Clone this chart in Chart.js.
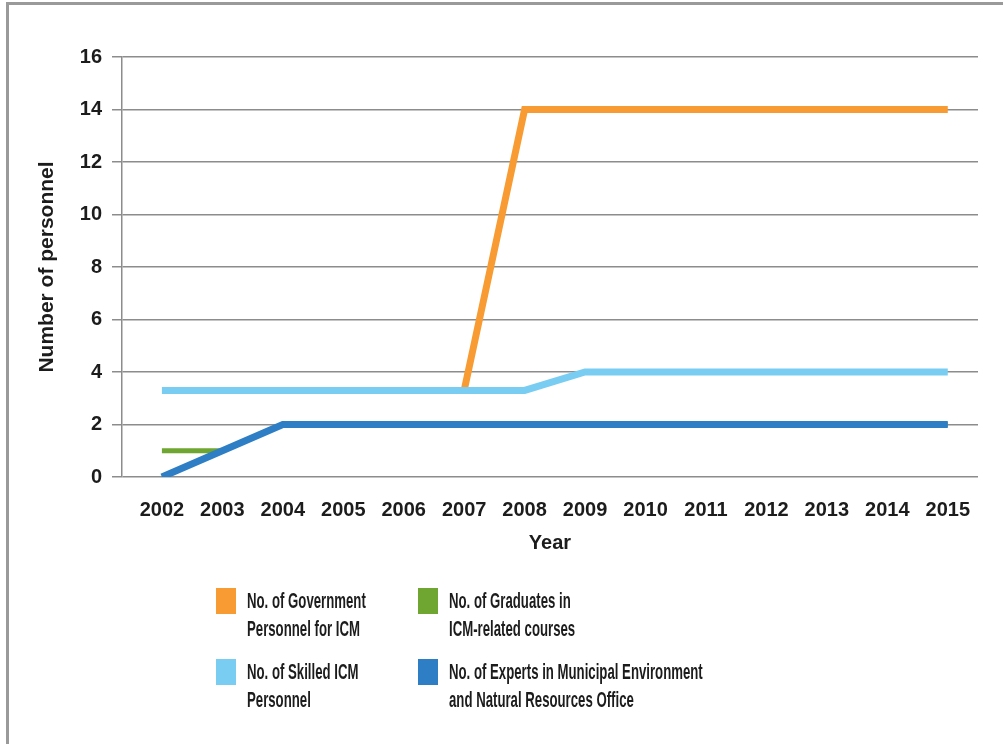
<!DOCTYPE html>
<html><head><meta charset="utf-8">
<script src="https://cdn.jsdelivr.net/npm/chart.js@4.4.1/dist/chart.umd.min.js"></script>
<style>
html,body{margin:0;padding:0;background:#fff;}
#wrap{position:relative;width:1003px;height:744px;overflow:hidden;background:#fff;}
#frame{position:absolute;left:6px;top:2px;width:1100px;height:800px;border-top:3px solid #9a9a9a;border-left:3px solid #9a9a9a;box-sizing:border-box;}
canvas{position:absolute;left:0;top:0;}
#legend{position:absolute;left:0;top:0;width:1003px;height:744px;font-family:"Liberation Sans",Arial,sans-serif;font-weight:bold;font-size:22px;color:#1c1c1c;}
.box{position:absolute;width:20px;height:26px;}
.txt{position:absolute;line-height:28px;white-space:nowrap;transform:scaleX(0.6);transform-origin:0 0;}
</style></head>
<body><div id="wrap"><div id="frame"></div><canvas id="c" width="1003" height="744"></canvas><div id="legend"></div></div>
<script>
const years = [2002,2003,2004,2005,2006,2007,2008,2009,2010,2011,2012,2013,2014,2015];
const govPersonnel = [null,null,null,null,null,3.3,14,14,14,14,14,14,14,14];
const graduates = [1,1,2,2,2,2,2,2,2,2,2,2,2,2];
const skilled = [3.3,3.3,3.3,3.3,3.3,3.3,3.3,4,4,4,4,4,4,4];
const experts = [0,1,2,2,2,2,2,2,2,2,2,2,2,2];
const yTicks = [0,2,4,6,8,10,12,14,16];
const seriesNames = [
  ["No. of Government","Personnel for ICM"],
  ["No. of Graduates in","ICM-related courses"],
  ["No. of Skilled ICM","Personnel"],
  ["No. of Experts in Municipal Environment","and Natural Resources Office"]
];
const colors = ['#F89B32','#6FA632','#79CDF2','#2D7EC5'];
const seriesData = [govPersonnel, graduates, skilled, experts];
const widths = [7,5,7,7];
const orders = [3,2,1,0];

const axisFont = {family:'"Liberation Sans",Arial,sans-serif', weight:'bold', size:20};

const datasets = seriesData.map((arr,i)=>({
  label: seriesNames[i].join(' '),
  data: years.map((y,j)=>({x:y, y:arr[j]})),
  borderColor: colors[i],
  backgroundColor: colors[i],
  borderWidth: widths[i],
  order: orders[i],
  spanGaps:false,
  fill:false
}));

new Chart(document.getElementById('c').getContext('2d'), {
  type:'line',
  data:{datasets},
  options:{
    responsive:false, animation:false,
    layout:{padding:{left:0,right:25,top:57,bottom:184}},
    plugins:{legend:{display:false},tooltip:{enabled:false}},
    elements:{point:{radius:0,hoverRadius:0},line:{tension:0,borderCapStyle:'butt',borderJoinStyle:'miter'}},
    scales:{
      x:{type:'linear',min:2001.34,max:2015.5,
        afterBuildTicks:a=>{a.ticks=years.map(v=>({value:v}));},
        ticks:{callback:v=>String(v),font:axisFont,color:'#1c1c1c',padding:21,autoSkip:false,maxRotation:0},
        grid:{display:false,drawTicks:false},
        border:{display:false},
        title:{display:true,text:'Year',font:axisFont,color:'#1c1c1c',padding:{top:0,bottom:5}},
        afterFit:s=>{s.height=83;}
      },
      y:{min:0,max:16,
        afterBuildTicks:a=>{a.ticks=yTicks.map(v=>({value:v}));},
        ticks:{font:axisFont,color:'#1c1c1c',padding:10},
        grid:{color:'#8c8c8c',lineWidth:1.5,tickLength:10,drawTicks:true},
        border:{display:true,color:'#8c8c8c',width:1.5},
        title:{display:true,text:'Number of personnel',font:{family:'"Liberation Sans",Arial,sans-serif',weight:'bold',size:21},color:'#1c1c1c',padding:{top:35,bottom:0}},
        afterFit:s=>{s.width=122;}
      }
    }
  }
});

const legendPos = [[216,587],[418,587],[216,658],[418,658]];
const leg = document.getElementById('legend');
seriesNames.forEach((lines,i)=>{
  const [x,y] = legendPos[i];
  const b = document.createElement('div'); b.className='box';
  b.style.left=x+'px'; b.style.top=(y+1)+'px'; b.style.background=colors[i];
  leg.appendChild(b);
  const t = document.createElement('div'); t.className='txt';
  t.style.left=(x+31)+'px'; t.style.top=y+'px';
  t.innerHTML = lines.map(s=>s.replace(/&/g,'&amp;')).join('<br>');
  leg.appendChild(t);
});
</script></body></html>
